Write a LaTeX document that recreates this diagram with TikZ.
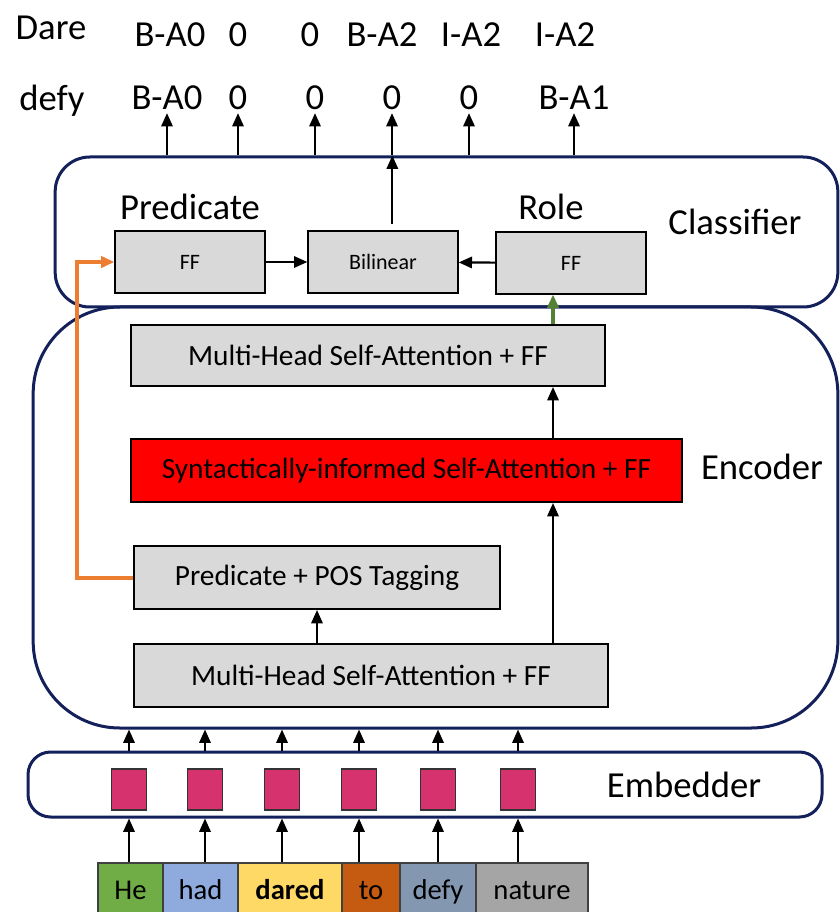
\documentclass[tikz,border=0pt]{standalone}
\usepackage{fontspec}
\setmainfont{Carlito}
\usetikzlibrary{arrows.meta}
\definecolor{framenavy}{HTML}{13205A}
\definecolor{boxgray}{HTML}{D9D9D9}
\definecolor{synred}{HTML}{FF0000}
\definecolor{embpink}{HTML}{D6336E}
\definecolor{predorange}{HTML}{ED7D31}
\definecolor{rolegreen}{HTML}{548235}
\definecolor{wgreen}{HTML}{70AD47}
\definecolor{wblue}{HTML}{8FAADC}
\definecolor{wyellow}{HTML}{FFD966}
\definecolor{wrust}{HTML}{C55A11}
\definecolor{wslate}{HTML}{8497B0}
\definecolor{wgray}{HTML}{A5A5A5}

\begin{document}
\begin{tikzpicture}[
    x=.75pt, y=-.75pt,
    big/.style={font=\fontsize{27.5}{33}\selectfont},
    tag/.style={big, inner sep=0pt, outer sep=2.5pt, text height=17.7pt, text depth=0pt},
    frame/.style={draw=framenavy, line width=2.25pt},
    layer/.style={draw=black, line width=1.5pt, fill=boxgray, inner sep=0pt,
      font=\fontsize{22}{26}\selectfont},
    ffbox/.style={layer, minimum width=112pt, minimum height=46pt,
      font=\fontsize{16.5}{20}\selectfont},
    emb/.style={draw=black!80, line width=1.2pt, fill=embpink,
      minimum width=26pt, minimum height=31pt, inner sep=0pt},
    word/.style={draw=black!75, line width=1pt, minimum height=40.5pt, inner sep=0pt,
      text height=13.9pt, text depth=0pt, font=\fontsize{21.5}{26}\selectfont},
    flow/.style={-{Triangle[length=10pt,width=8.5pt]}, line width=1.6pt},
    predflow/.style={flow, draw=predorange, line width=3pt},
    roleflow/.style={flow, draw=rolegreen, line width=3pt}
  ]
    \useasboundingbox (0,0) rectangle (839,912);

    \node[tag] (darehead) at (51,28) {Dare};
    \node[tag] (dare1) at (170,35) {B-A0};
    \node[tag] (dare2) at (238,35) {0};
    \node[tag] (dare3) at (310,35) {0};
    \node[tag] (dare4) at (382,35) {B-A2};
    \node[tag] (dare5) at (471,35) {I-A2};
    \node[tag] (dare6) at (565,35) {I-A2};

    \node[tag] (defyhead) at (52,99) {defy};
    \node[tag] (defy1) at (167,98) {B-A0};
    \node[tag] (defy2) at (238,98) {0};
    \node[tag] (defy3) at (315,98) {0};
    \node[tag] (defy4) at (392,98) {0};
    \node[tag] (defy5) at (469,98) {0};
    \node[tag] (defy6) at (574,98) {B-A1};

    \node[frame, rounded corners=26pt, minimum width=587pt, minimum height=112.5pt]
      (classifier) at (446.5,232) {};
    \node[frame, rounded corners=65pt, minimum width=603.5pt, minimum height=315.75pt]
      (encoder) at (435.5,517.5) {};
    \node[frame, rounded corners=17pt, minimum width=595.5pt, minimum height=48.75pt]
      (embedder) at (425,784.5) {};

    \node[big] (predlabel) at (190,207) {Predicate};
    \node[big] (rolelabel) at (551,207) {Role};
    \node[big] (classlabel) at (735,222) {Classifier};
    \node[big] (enclabel) at (762,467) {Encoder};
    \node[big] (emblabel) at (684,785) {Embedder};

    \node[ffbox] (ffl) at (190,262) {FF};
    \node[ffbox] (bil) at (383,262) {Bilinear};
    \node[ffbox] (ffr) at (571,263) {FF};

    \node[layer, minimum width=355.5pt, minimum height=45.75pt]
      (mhatop) at (368,355.5) {Multi-Head Self-Attention + FF};
    \node[layer, fill=synred, minimum width=413.25pt, minimum height=47.25pt]
      (syn) at (406.5,470.5) {Syntactically-informed Self-Attention + FF};
    \node[layer, minimum width=274.5pt, minimum height=47.25pt]
      (pos) at (317,577.5) {Predicate + POS Tagging};
    \node[layer, minimum width=355.5pt, minimum height=47.25pt]
      (mhabot) at (371,675.5) {Multi-Head Self-Attention + FF};

    \node[word, fill=wgreen, minimum width=48.75pt] (w1) at (130.5,890) {He};
    \node[word, fill=wblue, minimum width=56.25pt] (w2) at (200.5,890) {had};
    \node[word, fill=wyellow, minimum width=78pt] (w3) at (290,890) {\textbf{dared}};
    \node[word, fill=wrust, minimum width=43.5pt] (w4) at (371,890) {to};
    \node[word, fill=wslate, minimum width=57pt] (w5) at (438,890) {defy};
    \node[word, fill=wgray, minimum width=84pt] (w6) at (532,890) {nature};

    \foreach \i/\x in {1/129,2/205,3/282,4/359,5/438,6/518} {
      \node[emb] (e\i) at (\x,789.5) {};
      \draw[flow] (e\i |- w1.north) -- (e\i |- embedder.south);
      \draw[flow] (e\i |- embedder.north) -- (e\i |- encoder.south);
    }

    \coordinate (spine) at (553,0);
    \draw[flow] (pos.south |- mhabot.north) -- (pos.south);
    \draw[flow] (spine |- mhabot.north) -- (spine |- syn.south);
    \draw[flow] (spine |- syn.north) -- (spine |- mhatop.south);
    \draw[roleflow] (spine |- mhatop.north) -- (spine |- ffr.south);
    \draw[predflow] (pos.west) -- ++(-56,0) |- (ffl.west);

    \draw[flow] (ffl) -- (bil);
    \draw[flow] (ffr) -- (bil);
    \draw[flow, shorten <=5pt] ([xshift=7pt]bil.north) -- ([xshift=7pt]bil.north |- classifier.north);
    \foreach \i in {1,...,6}
      \draw[flow] (defy\i |- classifier.north) -- (defy\i.south);
  \end{tikzpicture}
\end{document}
